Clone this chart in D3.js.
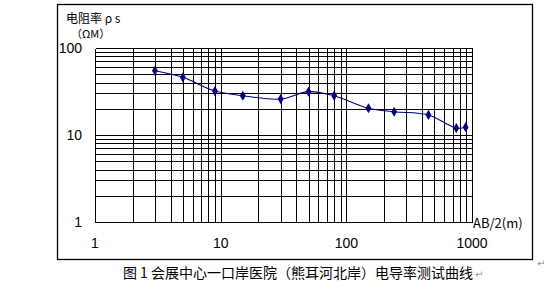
<!DOCTYPE html>
<meta charset="utf-8">
<style>
body { margin: 0; background: #fff; }
.grid line { stroke: #000; stroke-width: 1; shape-rendering: crispEdges; }
.tick-label { font-family: "Liberation Sans", Arial, sans-serif; font-size: 14px; fill: #000; }
.cjk { font-family: "Noto Sans CJK SC", sans-serif; fill: #000; }
</style>
<body>
<svg class="chart js-chart"></svg>
<script src="https://d3js.org/d3.v7.min.js"></script>
<script type="text/javascript">
"use strict";

// measured curve: AB/2 (m) vs apparent resistivity (ohm.m)
var abHalf = [3, 5, 9, 15, 30, 50, 80, 150, 240, 450, 750, 890];
var rho = [54.8, 46, 32, 28.3, 25.9, 31.5, 28.3, 20.3, 18.5, 17, 12, 12.3];
var xTicks = [1, 10, 100, 1000];
var yTicks = [1, 10, 100];

var width = 551, height = 292;
var plot = { left: 95, right: 472, top: 48, bottom: 222 };

var svg = d3.select('.js-chart')
  .attr('width', width)
  .attr('height', height);

// outer frame
svg.append('rect')
  .attr('x', 57.5).attr('y', 4.5)
  .attr('width', 475).attr('height', 255)
  .attr('fill', 'none').attr('stroke', '#000').attr('stroke-width', 1.3);

var x = d3.scaleLog().domain([1, 1000]).range([plot.left, plot.right]);
var y = d3.scaleLog().domain([1, 100]).range([plot.bottom, plot.top]);

function px(v) { return Math.round(v) + 0.5; }

// minor + major grid
var xGrid = [], yGrid = [];
[1, 10, 100].forEach(function (d) {
  for (var k = 1; k <= 9; k++) xGrid.push(d * k);
});
xGrid.push(1000);
[1, 10].forEach(function (d) {
  for (var k = 1; k <= 9; k++) yGrid.push(d * k);
});
yGrid.push(100);

var grid = svg.append('g').attr('class', 'grid');
grid.selectAll('.vx').data(xGrid).enter().append('line')
  .attr('x1', function (d) { return px(x(d)); })
  .attr('x2', function (d) { return px(x(d)); })
  .attr('y1', px(plot.top)).attr('y2', px(plot.bottom));
grid.selectAll('.hy').data(yGrid).enter().append('line')
  .attr('y1', function (d) { return px(y(d)); })
  .attr('y2', function (d) { return px(y(d)); })
  .attr('x1', px(plot.left)).attr('x2', px(plot.right));

// tick labels
svg.selectAll('.xl').data(xTicks).enter().append('text')
  .attr('class', 'tick-label')
  .attr('x', function (d) { return x(d); })
  .attr('y', 248)
  .attr('text-anchor', 'middle')
  .text(function (d) { return d; });

svg.selectAll('.yl').data(yTicks).enter().append('text')
  .attr('class', 'tick-label')
  .attr('x', 82)
  .attr('y', function (d) { return y(d) + 5; })
  .attr('text-anchor', 'end')
  .text(function (d) { return d; });

// axis titles
svg.append('text').attr('class', 'cjk')
  .attr('x', 66).attr('y', 23)
  .style('font-size', '12px')
  .text('电阻率 ρ s');
svg.append('text').attr('class', 'cjk')
  .attr('x', 71).attr('y', 38)
  .style('font-size', '11px')
  .text('（ΩM）');
svg.append('text').attr('class', 'cjk')
  .attr('x', 473).attr('y', 228)
  .style('font-size', '13px')
  .text('AB/2(m)');

// data curve
var points = abHalf.map(function (d, i) { return [x(d), y(rho[i])]; });
svg.append('path')
  .attr('d', d3.line().curve(d3.curveCatmullRom.alpha(0.5))(points))
  .attr('fill', 'none')
  .attr('stroke', '#000080')
  .attr('stroke-width', 1.1);

svg.selectAll('.pt').data(points).enter().append('path')
  .attr('transform', function (d) { return 'translate(' + d[0] + ',' + d[1] + ')'; })
  .attr('d', d3.symbol().type(d3.symbolDiamond).size(30))
  .attr('fill', '#000080');

// caption
svg.append('text').attr('class', 'cjk')
  .attr('x', 298).attr('y', 278)
  .attr('text-anchor', 'middle')
  .style('font-size', '14px')
  .text('图 1 会展中心一口岸医院（熊耳河北岸）电导率测试曲线');
svg.append('text')
  .attr('x', 475).attr('y', 278)
  .style('font-size', '10px').style('fill', '#999')
  .style('font-family', 'DejaVu Sans')
  .text('↵');
svg.append('text')
  .attr('x', 537).attr('y', 267)
  .style('font-size', '10px').style('fill', '#999')
  .style('font-family', 'DejaVu Sans')
  .text('↵');
</script>
</body>
